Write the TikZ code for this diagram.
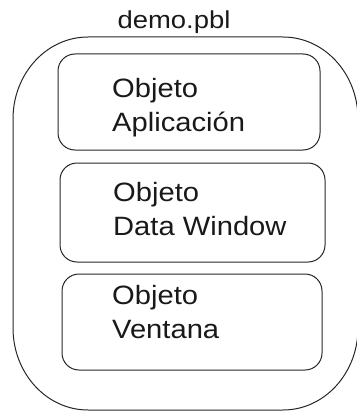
\documentclass[tikz,border=0pt]{standalone}
\usepackage{fontspec}
\newfontfamily\labfont[FakeStretch=1.1]{Liberation Sans}
\newfontfamily\titlefont[FakeStretch=1.12]{Liberation Sans}
\begin{document}
\begin{tikzpicture}[x=1pt,y=1pt,
  shell/.style={draw=black!85, line width=1pt},
  objbox/.style={draw=black!85, line width=1pt, rounded corners=17pt},
  objlabel/.style={inner sep=0pt, anchor=base west, align=left,
    font=\labfont\fontsize{26.5}{34}\selectfont, text=black!90},
]
\useasboundingbox (0,0) rectangle (356,-412);

% library title
\node[inner sep=0pt, anchor=base, font=\titlefont\fontsize{24.5}{28}\selectfont, text=black!90]
  (title) at (174,-28.5) {demo.pbl};

% library container with wide elliptical corners
\draw[shell] (88,-37) -- (283,-37)
  arc[start angle=90, end angle=0, x radius=75, y radius=82] -- (358,-328)
  arc[start angle=0, end angle=-90, x radius=75, y radius=82] -- (88,-410)
  arc[start angle=270, end angle=180, x radius=75, y radius=82] -- (13,-119)
  arc[start angle=180, end angle=90, x radius=75, y radius=82] -- cycle;

% object boxes
\draw[objbox] (58,-54) rectangle (320,-150);
\draw[objbox] (60,-163) rectangle (325,-262);
\draw[objbox] (62,-274) rectangle (322,-370);

% object labels (anchored on the baseline of their last line)
\node[objlabel] (app) at (112,-131) {Objeto\\Aplicación};
\node[objlabel] (dw) at (113,-235) {Objeto\\Data Window};
\node[objlabel] (win) at (112,-338) {Objeto\\Ventana};
\end{tikzpicture}
\end{document}
